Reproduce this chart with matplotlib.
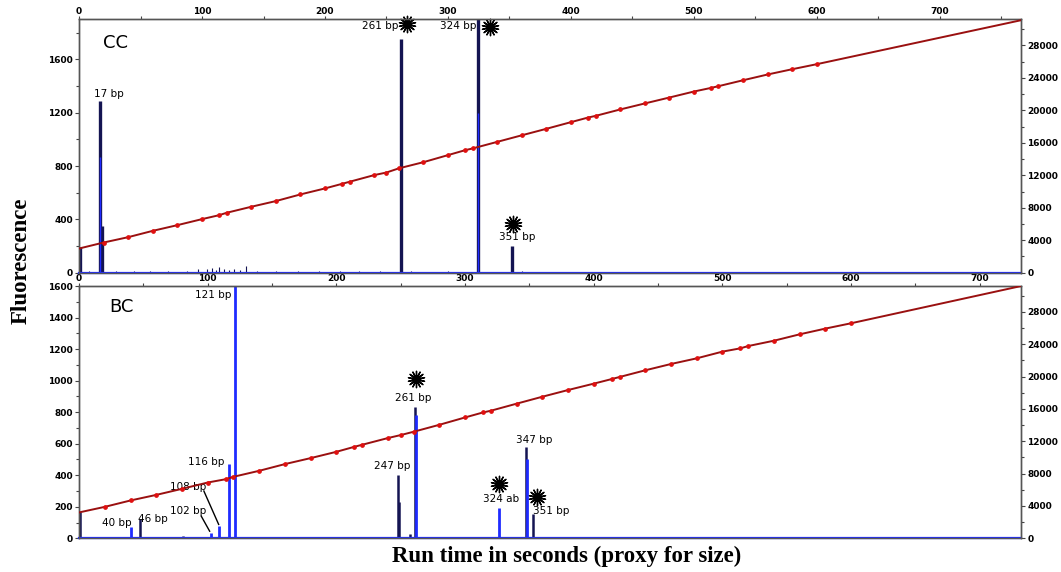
import matplotlib
matplotlib.use('Agg')
import numpy as np
import matplotlib.pyplot as plt
from matplotlib.path import Path
from matplotlib.ticker import MultipleLocator

# Size standard (bp) and the scan position read for each, per panel
std_sizes = [0, 20, 40, 60, 80, 100, 114, 120, 140, 160, 180, 200, 214, 220, 240, 250, 260,
             280, 300, 314, 320, 340, 360, 380, 400, 414, 420, 440, 460, 480, 500, 514,
             520, 540, 560, 580, 600, 766]
cc_scans = [2980, 3720, 4380, 5160, 5860, 6600, 7090, 7380, 8120, 8820, 9640, 10380, 10950,
            11200, 12020, 12340, 12850, 13610, 14480, 15090, 15300, 16110, 16920, 17720,
            18540, 19110, 19310, 20100, 20840, 21570, 22310, 22760, 22970, 23700, 24410,
            25060, 25680, 31090]
bc_sizes = std_sizes[:-1] + [732]
bc_scans = [3200, 3890, 4680, 5370, 6120, 6900, 7310, 7610, 8350, 9180, 9920, 10700, 11320,
            11570, 12400, 12770, 13180, 14040, 14950, 15570, 15780, 16650, 17510, 18340,
            19130, 19700, 19950, 20780, 21560, 22260, 23090, 23500, 23780, 24440, 25230,
            25940, 26600, 31200]

# CC peaks: dark outer trace and brighter inner trace
cc_dark_x = [0.5, 17, 18.5, 261.5, 324.5, 352]
cc_dark_h = [190, 1290, 350, 1750, 2100, 200]
cc_blue_x = [17, 324.8]
cc_blue_h = [870, 1200]
cc_noise_x = [8, 30, 45, 58, 72, 88, 97, 104, 108, 111, 114, 118, 122, 126, 131, 136, 145,
              160, 178, 195, 212, 228, 245, 270, 290, 300, 335, 360, 380, 395, 410]
cc_noise_h = [12, 15, 10, 14, 12, 16, 30, 25, 35, 22, 45, 28, 20, 30, 18, 48, 14,
              15, 12, 14, 12, 10, 12, 10, 8, 10, 8, 10, 8, 6, 6]

# BC peaks
bc_blue_x = [40.5, 102.5, 109, 116.5, 121.5, 261.5, 326.5, 348.2]
bc_blue_h = [73, 35, 77, 470, 1900, 780, 194, 500]
bc_dark_x = [0.5, 47.5, 247.5, 248.3, 261.2, 347.5, 352.5, 256.9, 81]
bc_dark_h = [166, 120, 400, 230, 833, 579, 154, 25, 12]
bc_noise_x = [60, 140, 190, 300, 336, 420, 500]
bc_noise_h = [6, 8, 6, 6, 8, 5, 5]

navy = '#141452'
blue = '#1f2bff'
red_line = '#9a1010'
red_dot = '#e01010'

# burst-shaped marker (many thin rays)
ang = np.linspace(0, 2 * np.pi, 29)[:-1] + np.pi / 2
rad = np.where(np.arange(28) % 2 == 0, 1.0, 0.22)
verts = np.column_stack([rad * np.cos(ang), rad * np.sin(ang)])
burst = Path(np.vstack([verts, verts[:1]]), closed=True)

fig = plt.figure(figsize=(10.61, 5.72), dpi=100)
ax1 = fig.add_axes([0.0745, 0.5232, 0.8878, 0.443])
ax2 = fig.add_axes([0.0745, 0.0589, 0.8878, 0.441])


def style_axes(ax, axr, xmax, ymax, ymajor, yminor):
    ax.set_xlim(0, xmax)
    ax.set_ylim(0, ymax)
    axr.set_ylim(0, 31200)
    ax.xaxis.tick_top()
    ax.xaxis.set_major_locator(MultipleLocator(100))
    ax.xaxis.set_minor_locator(MultipleLocator(50))
    ax.yaxis.set_major_locator(MultipleLocator(ymajor))
    ax.yaxis.set_minor_locator(MultipleLocator(yminor))
    axr.yaxis.set_major_locator(MultipleLocator(4000))
    axr.yaxis.set_minor_locator(MultipleLocator(2000))
    for a in (ax, axr):
        a.tick_params(which='both', labelsize=6.5, length=3, width=0.8, color='#444444',
                      pad=1.5)
        a.tick_params(which='minor', length=2)
        for lab in a.get_xticklabels() + a.get_yticklabels():
            lab.set_fontweight('bold')
        for s in a.spines.values():
            s.set_color('#555555')
            s.set_linewidth(1.0)
    ax.tick_params(axis='x', which='both', length=2, pad=0.5)
    ax.spines['bottom'].set_color(blue)
    ax.spines['bottom'].set_linewidth(1.6)


# ---------------- CC panel ----------------
ax1r = ax1.twinx()
style_axes(ax1, ax1r, 766, 1900, 400, 200)
ax1.vlines(cc_noise_x, 0, cc_noise_h, color=navy, lw=0.8)
ax1.vlines(cc_dark_x, 0, cc_dark_h, color=navy, lw=2.4)
ax1.vlines(cc_blue_x, 0, cc_blue_h, color=blue, lw=1.0)
ax1r.plot(std_sizes, cc_scans, color=red_line, lw=1.4, zorder=3)
ax1r.plot(std_sizes[1:-1], cc_scans[1:-1], 'o', color=red_dot, ms=2.4, zorder=4)

ax1.text(30, 1725, 'CC', fontsize=13, ha='center', va='center')
ax1.text(24.5, 1300, '17 bp', fontsize=7.5, ha='center', va='bottom')
ax1.text(260, 1850, '261 bp', fontsize=7.5, ha='right', va='center')
ax1.text(323, 1850, '324 bp', fontsize=7.5, ha='right', va='center')
ax1.text(356, 265, '351 bp', fontsize=7.5, ha='center', va='center')
ax1.plot([267, 334, 352.7], [1865, 1845, 362], marker=burst, ls='none',
         color='black', ms=12, clip_on=False, zorder=5)

# ---------------- BC panel ----------------
ax2r = ax2.twinx()
style_axes(ax2, ax2r, 732, 1600, 200, 100)
ax2.vlines(bc_noise_x, 0, bc_noise_h, color=navy, lw=0.8)
ax2.vlines(bc_dark_x, 0, bc_dark_h, color=navy, lw=1.8)
ax2.vlines(bc_blue_x, 0, bc_blue_h, color=blue, lw=2.0)
ax2r.plot(bc_sizes, bc_scans, color=red_line, lw=1.4, zorder=3)
ax2r.plot(bc_sizes[1:-1], bc_scans[1:-1], 'o', color=red_dot, ms=2.4, zorder=4)

ax2.text(33, 1467, 'BC', fontsize=13, ha='center', va='center')
bc_labels = [('121 bp', 104.6, 1545), ('116 bp', 99, 486), ('108 bp', 84.6, 328),
             ('102 bp', 84.6, 173), ('40 bp', 29, 94), ('46 bp', 57.5, 120),
             ('247 bp', 243.5, 460), ('261 bp', 260, 892), ('324 ab', 328, 247),
             ('347 bp', 354, 626), ('351 bp', 367, 175)]
for txt, x, y in bc_labels:
    ax2.text(x, y, txt, fontsize=7.5, ha='center', va='center')
ax2.plot([95, 101.5], [140, 45], color='black', lw=1.0)
ax2.plot([97, 108.5], [300, 88], color='black', lw=1.0)
ax2.plot([261.7, 326.6, 355.5], [1009, 345, 265], marker=burst, ls='none',
         color='black', ms=12, zorder=5)

# Axis titles
fig.text(0.02, 0.545, 'Fluorescence', rotation=90, ha='center', va='center',
         fontsize=16.5, fontweight='bold', family='Liberation Serif')
fig.text(0.534, 0.028, 'Run time in seconds (proxy for size)', ha='center', va='center',
         fontsize=16.5, fontweight='bold', family='Liberation Serif')

plt.savefig('out.png', dpi=100)
